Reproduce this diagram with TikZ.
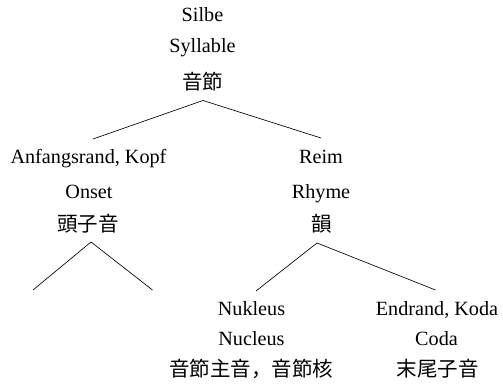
\documentclass[tikz,border=0pt]{standalone}
\usepackage{fontspec}
\setmainfont{Liberation Serif}
\newfontfamily\cjk{Noto Sans CJK JP}
\begin{document}
\begin{tikzpicture}[x=1pt,y=-1pt,
  lat/.style={anchor=base,inner sep=0pt,font=\fontsize{20.2}{23}\selectfont},
  han/.style={anchor=base,inner sep=0pt,font=\cjk\fontsize{20.5}{23}\selectfont},
  branch/.style={draw=black,line width=0.65pt}]
\useasboundingbox (0,0) rectangle (503,385);
% root
\node[lat] (silbe) at (202.5,22) {Silbe};
\node[lat] (syll) at (202.5,53) {Syllable};
\node[han] (onsetsu) at (202.5,90) {音節};
% onset
\node[lat] (anf) at (88.5,163) {Anfangsrand, Kopf};
\node[lat] (onset) at (89,198) {Onset};
\node[han] (toshi) at (88,231) {頭子音};
% rhyme
\node[lat] (reim) at (321,163) {Reim};
\node[lat] (rhyme) at (321,198) {Rhyme};
\node[han] (in) at (321.5,231) {韻};
% nucleus
\node[lat] (nuk) at (251.5,315) {Nukleus};
\node[lat] (nuc) at (251.5,345) {Nucleus};
\node[han] (kaku) at (251,376) {音節主音，音節核};
% coda
\node[lat] (end) at (437,315) {Endrand, Koda};
\node[lat] (coda) at (436.5,345) {Coda};
\node[han] (matsu) at (437.5,376) {末尾子音};
% branching points
\coordinate (r0) at (203,100.5);
\coordinate (rl) at (93,139);
\coordinate (rr) at (321,138);
\coordinate (o0) at (91,242);
\coordinate (ol) at (33,290);
\coordinate (or) at (152.5,290);
\coordinate (h0) at (317,243);
\coordinate (hl) at (256,291);
\coordinate (hr) at (435.5,290);
\draw[branch] (rl) -- (r0) -- (rr);
\draw[branch] (ol) -- (o0) -- (or);
\draw[branch] (hl) -- (h0) -- (hr);
\end{tikzpicture}
\end{document}
